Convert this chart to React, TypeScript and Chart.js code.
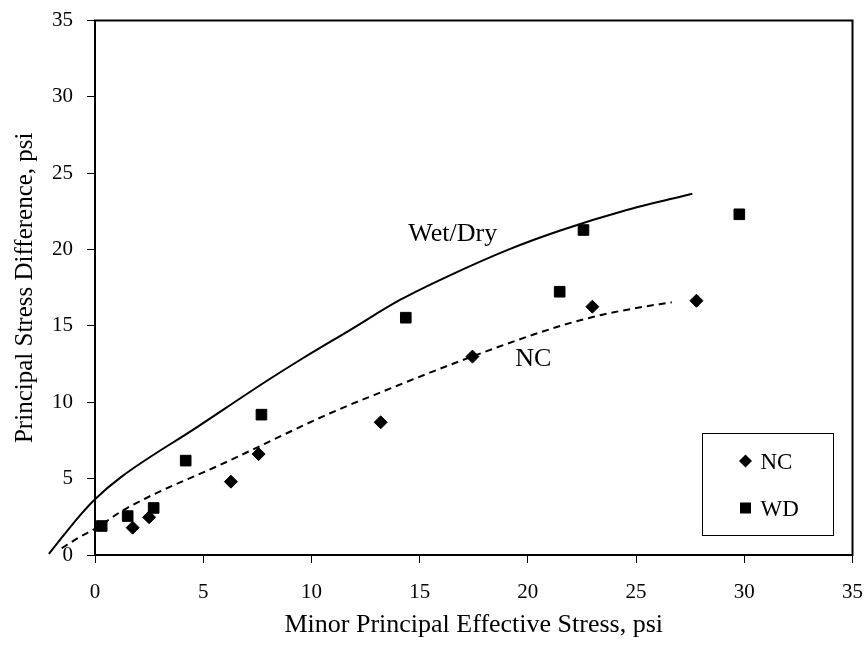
import React, { useEffect, useRef } from "react";
import { Chart, registerables } from "chart.js";

Chart.register(...registerables);

// Scatter data: Normally consolidated (NC) and Wet/Dry (WD)
const ncX = [1.74, 2.5, 6.28, 7.56, 13.2, 17.44, 22.98, 27.79];
const ncY = [1.79, 2.47, 4.8, 6.61, 8.69, 12.99, 16.26, 16.65];
const wdX = [0.31, 1.51, 2.71, 4.19, 7.69, 14.36, 21.47, 22.57, 29.77];
const wdY = [1.9, 2.55, 3.08, 6.18, 9.19, 15.54, 17.24, 21.28, 22.31];

// Fitted envelope curves
const wetDryCurveX = [-2.13, -1.5, -0.75, 0, 1.23, 4.7, 8.0, 9.47, 11.78, 14.09, 16.3, 19.1, 21.5, 24.57, 27.6];
const wetDryCurveY = [0.07, 1.2, 2.5, 3.65, 5.13, 8.36, 11.46, 12.77, 14.73, 16.7, 18.25, 20.0, 21.25, 22.59, 23.66];
const ncCurveX = [-1.54, -0.8, 0, 1.46, 6.24, 10.86, 13.2, 17.43, 21.5, 23.34, 25.0, 26.65];
const ncCurveY = [0.44, 1.1, 1.72, 3.06, 6.2, 9.28, 10.65, 13.0, 15.0, 15.7, 16.17, 16.55];

// Curve annotations (data coordinates)
const curveLabels = [
  { text: "Wet/Dry", x: 16.53, y: 21.0 },
  { text: "NC", x: 20.25, y: 12.84 },
];

const xTitle = "Minor Principal Effective Stress, psi";
const yTitle = "Principal Stress Difference, psi";
const axisMin = 0;
const axisMax = 35;
const axisStep = 5;

const FONT = "'Liberation Serif', 'Times New Roman', serif";

const zip = (xs: number[], ys: number[]) => xs.map((x, i) => ({ x, y: ys[i] }));

const framePlugin = {
  id: "frame",
  afterDatasetsDraw(chart: any) {
    const { ctx, chartArea: a, scales } = chart;
    ctx.save();
    ctx.strokeStyle = "#000";
    ctx.lineWidth = 2;
    ctx.strokeRect(a.left, a.top, a.right - a.left, a.bottom - a.top);

    // curve labels
    ctx.fillStyle = "#000";
    ctx.font = `26px ${FONT}`;
    ctx.textAlign = "center";
    ctx.textBaseline = "middle";
    curveLabels.forEach((l) => {
      ctx.fillText(l.text, scales.x.getPixelForValue(l.x), scales.y.getPixelForValue(l.y));
    });

    // legend box
    const bx = a.right - 151;
    const by = a.bottom - 122;
    const bw = 131;
    const bh = 102;
    ctx.lineWidth = 1;
    ctx.strokeRect(Math.round(bx) + 0.5, Math.round(by) + 0.5, bw, bh);
    const items = [
      { label: "NC", style: "diamond", cy: by + 28 },
      { label: "WD", style: "square", cy: by + 75 },
    ];
    ctx.textAlign = "left";
    ctx.font = `23px ${FONT}`;
    items.forEach((it) => {
      const cx = bx + 44;
      ctx.beginPath();
      if (it.style === "diamond") {
        const r = 6.5;
        ctx.moveTo(cx - r, it.cy);
        ctx.lineTo(cx, it.cy - r);
        ctx.lineTo(cx + r, it.cy);
        ctx.lineTo(cx, it.cy + r);
        ctx.closePath();
      } else {
        const s = 5.5;
        ctx.rect(cx - s, it.cy - s, 2 * s, 2 * s);
      }
      ctx.fill();
      ctx.fillText(it.label, cx + 15, it.cy + 2);
    });
    ctx.restore();
  },
};

export default function App() {
  const ref = useRef<HTMLCanvasElement>(null);
  useEffect(() => {
    if (!ref.current) return;
    const chart = new Chart(ref.current, {
      type: "scatter",
      data: {
        datasets: [
          {
            label: "Wet/Dry curve",
            data: zip(wetDryCurveX, wetDryCurveY),
            showLine: true,
            borderColor: "#000",
            borderWidth: 2,
            pointRadius: 0,
            cubicInterpolationMode: "monotone",
            clip: false,
          } as any,
          {
            label: "NC curve",
            data: zip(ncCurveX, ncCurveY),
            showLine: true,
            borderColor: "#000",
            borderWidth: 2,
            borderDash: [7, 5],
            pointRadius: 0,
            cubicInterpolationMode: "monotone",
            clip: false,
          } as any,
          {
            label: "NC",
            data: zip(ncX, ncY),
            pointStyle: "rectRot",
            pointRadius: 6.5,
            backgroundColor: "#000",
            borderColor: "#000",
            borderWidth: 1,
          },
          {
            label: "WD",
            data: zip(wdX, wdY),
            pointStyle: "rect",
            pointRadius: 7.5,
            backgroundColor: "#000",
            borderColor: "#000",
            borderWidth: 1,
          },
        ],
      },
      options: {
        responsive: false,
        animation: false,
        layout: { padding: { top: 20.5, right: 12.5, left: 0, bottom: 0 } },
        plugins: {
          legend: { display: false },
          tooltip: { enabled: false },
        },
        scales: {
          x: {
            type: "linear",
            position: "bottom",
            afterDataLimits: (s: any) => {
              s.min = axisMin;
              s.max = axisMax;
            },
            afterFit: (s: any) => {
              s.height = 97;
              s.paddingLeft = 0;
              s.paddingRight = 0;
            },
            ticks: {
              stepSize: axisStep,
              color: "#000",
              font: { family: FONT, size: 21 },
              padding: 17,
              maxRotation: 0,
            },
            grid: { drawOnChartArea: false, drawTicks: true, tickLength: 8, color: "#000", lineWidth: 1 },
            border: { display: true, color: "#000", width: 2 },
            title: {
              display: true,
              text: xTitle,
              color: "#000",
              font: { family: FONT, size: 26 },
              padding: { top: 0, bottom: 11 },
            },
          },
          y: {
            type: "linear",
            min: axisMin,
            max: axisMax,
            afterFit: (s: any) => {
              s.width = 95;
              s.paddingTop = 0;
              s.paddingBottom = 0;
            },
            ticks: {
              stepSize: axisStep,
              color: "#000",
              font: { family: FONT, size: 21 },
              padding: 14,
            },
            grid: { drawOnChartArea: false, drawTicks: true, tickLength: 8, color: "#000", lineWidth: 1 },
            border: { display: true, color: "#000", width: 2 },
            title: {
              display: true,
              text: yTitle,
              color: "#000",
              font: { family: FONT, size: 25 },
              padding: { top: 10, bottom: 0 },
            },
          },
        },
      },
      plugins: [framePlugin],
    });
    return () => chart.destroy();
  }, []);
  return (
    <div style={{ position: "absolute", left: 0, top: 0, width: 865, height: 652, background: "#fff" }}>
      <canvas ref={ref} width={865} height={652} />
    </div>
  );
}
